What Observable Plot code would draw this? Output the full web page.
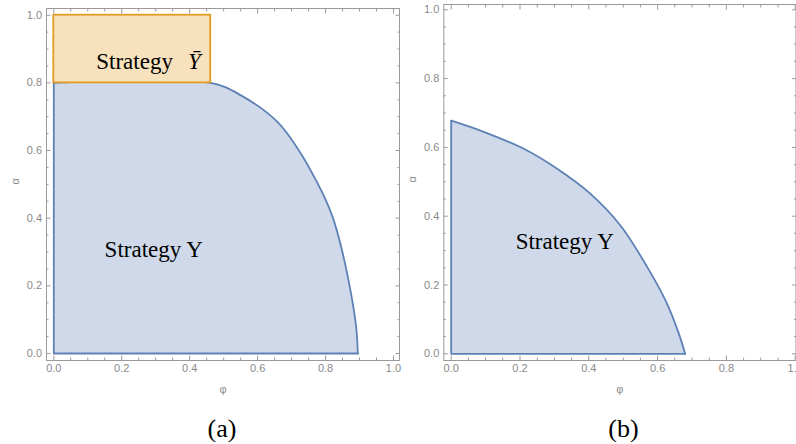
<!DOCTYPE html>
<html>
<head>
<meta charset="utf-8">
<script src="https://cdn.jsdelivr.net/npm/d3@7"></script>
<script src="https://cdn.jsdelivr.net/npm/@observablehq/plot@0.6"></script>
<style>
  html, body { margin: 0; padding: 0; background: #fff; }
  #root { position: relative; width: 796px; height: 444px; overflow: hidden; }
  .panel { position: absolute; top: 0; }
  .cap { position: absolute; top: 414px; width: 100px; text-align: center;
         font-family: "Liberation Serif", serif; font-size: 26px; line-height: 30px; color: #000; }
</style>
</head>
<body>
<div id="root"></div>
<script>
// ---- data ----
// panel (a): boundary of "Strategy Y" region (phi, alpha)
const phiA   = [0, 0.462, 0.551, 0.659, 0.728, 0.777, 0.800, 0.821, 0.846, 0.875, 0.890, 0.895];
const alphaA = [0.8, 0.8, 0.763, 0.684, 0.590, 0.502, 0.455, 0.403, 0.315, 0.177, 0.079, 0];
// panel (a): "Strategy Y-bar" rectangle
const barPhi   = [0, 0.462];
const barAlpha = [0.8, 1.0];
// panel (b): boundary of "Strategy Y" region
const phiB   = [0, 0.085, 0.211, 0.308, 0.405, 0.492, 0.570, 0.623, 0.662, 0.680];
const alphaB = [0.678, 0.649, 0.596, 0.538, 0.465, 0.373, 0.252, 0.155, 0.058, 0];
// ticks
const majorTicks = [0, 0.2, 0.4, 0.6, 0.8, 1.0];
const minorTicks = [0.05,0.1,0.15,0.25,0.3,0.35,0.45,0.5,0.55,0.65,0.7,0.75,0.85,0.9,0.95];
const captions = ["(a)", "(b)"];
const regionLabel = "Strategy Y";

const BLUE = "#5e81b5", BLUE_FILL = "#cfd9e9";
const ORANGE = "#e19c24", ORANGE_FILL = "#f7e2bd";
const GRAY = "#8a8a8a", FRAME = "#9a9a9a";
const SERIF = "Liberation Serif, serif";

function axes() {
  const fmt = d3.format(".1f");
  return [
    Plot.frame({stroke: FRAME, strokeWidth: 1}),
    ...["bottom","top"].flatMap(a => [
      Plot.axisX({anchor: a, ticks: majorTicks, tickSize: -4.5, tickFormat: () => "", stroke: FRAME, label: null}),
      Plot.axisX({anchor: a, ticks: minorTicks, tickSize: -2.5, tickFormat: () => "", stroke: FRAME, label: null})
    ]),
    ...["left","right"].flatMap(a => [
      Plot.axisY({anchor: a, ticks: majorTicks, tickSize: -4.5, tickFormat: () => "", stroke: FRAME, label: null}),
      Plot.axisY({anchor: a, ticks: minorTicks, tickSize: -2.5, tickFormat: () => "", stroke: FRAME, label: null})
    ]),
    Plot.axisX({anchor: "bottom", ticks: majorTicks, tickSize: 0, tickPadding: 4, tickFormat: fmt, fill: GRAY, label: null}),
    Plot.axisY({anchor: "left", ticks: majorTicks, tickSize: 0, tickPadding: 4.5, tickFormat: fmt, fill: GRAY, label: null}),
    Plot.text(["φ"], {frameAnchor: "bottom", dy: 32, fill: GRAY, fontSize: 11}),
    Plot.text(["α"], {frameAnchor: "left", dx: -31, rotate: -90, fill: GRAY, fontSize: 11})
  ];
}

const style = {fontFamily: "Liberation Sans, Arial, sans-serif", fontSize: "11px", background: "transparent", overflow: "visible"};

// ---- panel (a) ----
const ptsA = phiA.map((p, i) => ({phi: p, alpha: alphaA[i]}));
const edgeA = [
  {phi: phiA[phiA.length - 1], alpha: 0},
  {phi: phiA[0], alpha: 0},
  {phi: phiA[0], alpha: alphaA[0]}
];
const plotA = Plot.plot({
  width: 400, height: 400,
  marginLeft: 46, marginRight: 1, marginTop: 8, marginBottom: 40,
  style,
  x: {domain: [0, 1], insetLeft: 7.3, insetRight: 6, label: null},
  y: {domain: [0, 1], insetTop: 6.7, insetBottom: 7, label: null},
  marks: [
    Plot.areaY(ptsA, {x: "phi", y: "alpha", fill: BLUE_FILL, curve: "catmull-rom"}),
    Plot.line(ptsA, {x: "phi", y: "alpha", stroke: BLUE, strokeWidth: 1.8, curve: "catmull-rom"}),
    Plot.line(edgeA, {x: "phi", y: "alpha", stroke: BLUE, strokeWidth: 1.8}),
    Plot.rect([{x1: barPhi[0], x2: barPhi[1], y1: barAlpha[0], y2: barAlpha[1]}],
      {x1: "x1", x2: "x2", y1: "y1", y2: "y2", fill: ORANGE_FILL, stroke: ORANGE, strokeWidth: 1.8}),
    Plot.text([{phi: 0.125, alpha: 0.863}], {x: "phi", y: "alpha", text: () => "Strategy", textAnchor: "start",
      fontFamily: SERIF, fontSize: 23, fill: "#000"}),
    Plot.text([{phi: 0.414, alpha: 0.863}], {x: "phi", y: "alpha", text: () => "Ȳ", textAnchor: "middle", fontStyle: "italic",
      fontFamily: SERIF, fontSize: 23, fill: "#000"}),
    Plot.text([{phi: 0.294, alpha: 0.306}], {x: "phi", y: "alpha", text: () => regionLabel,
      fontFamily: SERIF, fontSize: 23, fill: "#000"}),
    ...axes()
  ]
});

// ---- panel (b) ----
const ptsB = phiB.map((p, i) => ({phi: p, alpha: alphaB[i]}));
const edgeB = [
  {phi: phiB[phiB.length - 1], alpha: 0},
  {phi: phiB[0], alpha: 0},
  {phi: phiB[0], alpha: alphaB[0]}
];
const plotB = Plot.plot({
  width: 396, height: 400,
  marginLeft: 43.3, marginRight: 0.5, marginTop: 4, marginBottom: 40,
  style,
  x: {domain: [0, 1], insetLeft: 7.4, insetRight: 0.8, label: null},
  y: {domain: [0, 1], insetTop: 5.3, insetBottom: 6.7, label: null},
  marks: [
    Plot.areaY(ptsB, {x: "phi", y: "alpha", fill: BLUE_FILL, curve: "catmull-rom"}),
    Plot.line(ptsB, {x: "phi", y: "alpha", stroke: BLUE, strokeWidth: 1.8, curve: "catmull-rom"}),
    Plot.line(edgeB, {x: "phi", y: "alpha", stroke: BLUE, strokeWidth: 1.8}),
    Plot.text([{phi: 0.33, alpha: 0.327}], {x: "phi", y: "alpha", text: () => regionLabel,
      fontFamily: SERIF, fontSize: 23, fill: "#000"}),
    ...axes()
  ]
});

const root = document.getElementById("root");
const wa = document.createElement("div"); wa.className = "panel"; wa.style.left = "0px"; wa.appendChild(plotA); root.appendChild(wa);
const wb = document.createElement("div"); wb.className = "panel"; wb.style.left = "400px"; wb.appendChild(plotB); root.appendChild(wb);
[[captions[0], 172], [captions[1], 573.5]].forEach(([t, l]) => {
  const c = document.createElement("div"); c.className = "cap"; c.style.left = l + "px"; c.textContent = t; root.appendChild(c);
});
</script>
</body>
</html>
